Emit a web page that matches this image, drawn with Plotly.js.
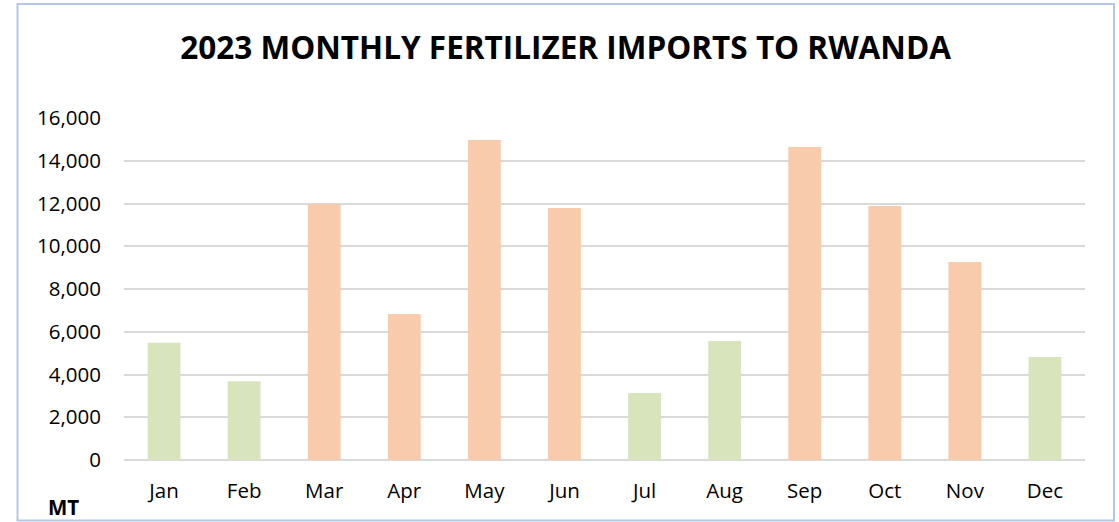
<!DOCTYPE html>
<html>
<head>
<meta charset="utf-8">
<script src="https://cdn.plot.ly/plotly-3.0.1.min.js"></script>
<style>
  html, body { margin: 0; padding: 0; background: #ffffff; }
  #chart { width: 1119px; height: 522px; }
</style>
</head>
<body>
<div id="chart"></div>
<script>
// Data (metric tonnes)
const months = ['Jan', 'Feb', 'Mar', 'Apr', 'May', 'Jun', 'Jul', 'Aug', 'Sep', 'Oct', 'Nov', 'Dec'];
const imports = [5490, 3680, 11980, 6830, 14970, 11790, 3130, 5570, 14640, 11880, 9260, 4820];
const group = ['low', 'low', 'high', 'high', 'high', 'high', 'low', 'low', 'high', 'high', 'high', 'low'];
const yTickValues = [0, 2000, 4000, 6000, 8000, 10000, 12000, 14000, 16000];

const groupColors = { low: '#D8E4BC', high: '#F8CBAD' };
const barColors = group.map(g => groupColors[g]);

const trace = {
  type: 'bar',
  x: months,
  y: imports,
  width: 0.41,
  marker: { color: barColors, line: { width: 0 } },
  hoverinfo: 'x+y'
};

const font = "'Open Sans', 'Segoe UI', Calibri, sans-serif";

const layout = {
  width: 1119,
  height: 522,
  margin: { l: 124, r: 34, t: 118, b: 62 },
  paper_bgcolor: '#ffffff',
  plot_bgcolor: '#ffffff',
  showlegend: false,
  font: { family: font, color: '#000000', size: 20.5 },
  title: {
    text: '<b>2023 MONTHLY FERTILIZER IMPORTS TO RWANDA</b>',
    font: { family: font, size: 31.5, color: '#000000' },
    xref: 'container', x: 0.5055, xanchor: 'center',
    yref: 'container', y: 0.908, yanchor: 'middle'
  },
  xaxis: {
    type: 'category',
    categoryorder: 'array',
    categoryarray: months,
    showgrid: false,
    showline: false,
    zeroline: false,
    ticks: '',
    ticklabelstandoff: 16,
    tickfont: { family: font, size: 20.5, color: '#000000' }
  },
  yaxis: {
    range: [0, 16000],
    tickvals: yTickValues,
    tickformat: ',d',
    showgrid: true,
    gridcolor: '#D9D9D9',
    gridwidth: 2,
    zeroline: true,
    zerolinecolor: '#D9D9D9',
    zerolinewidth: 2,
    showline: false,
    ticks: '',
    ticklabelstandoff: 22,
    tickfont: { family: font, size: 20.5, color: '#000000' }
  },
  shapes: [{
    type: 'rect', layer: 'below',
    xref: 'paper', yref: 'paper',
    x0: (17.5 - 124) / 961, x1: (1114 - 124) / 961,
    y0: (460 - 520.5) / 342, y1: (460 - 4) / 342,
    line: { color: '#B4C7E7', width: 2 },
    fillcolor: 'rgba(0,0,0,0)'
  }],
  annotations: [{
    text: '<b>MT</b>',
    xref: 'paper', yref: 'paper',
    x: (46 - 124) / 961, xanchor: 'left',
    y: (460 - 507) / 342, yanchor: 'middle',
    showarrow: false,
    font: { family: font, size: 20.5, color: '#000000' }
  }]
};

Plotly.newPlot('chart', [trace], layout, { displayModeBar: false, staticPlot: true });
</script>
</body>
</html>
